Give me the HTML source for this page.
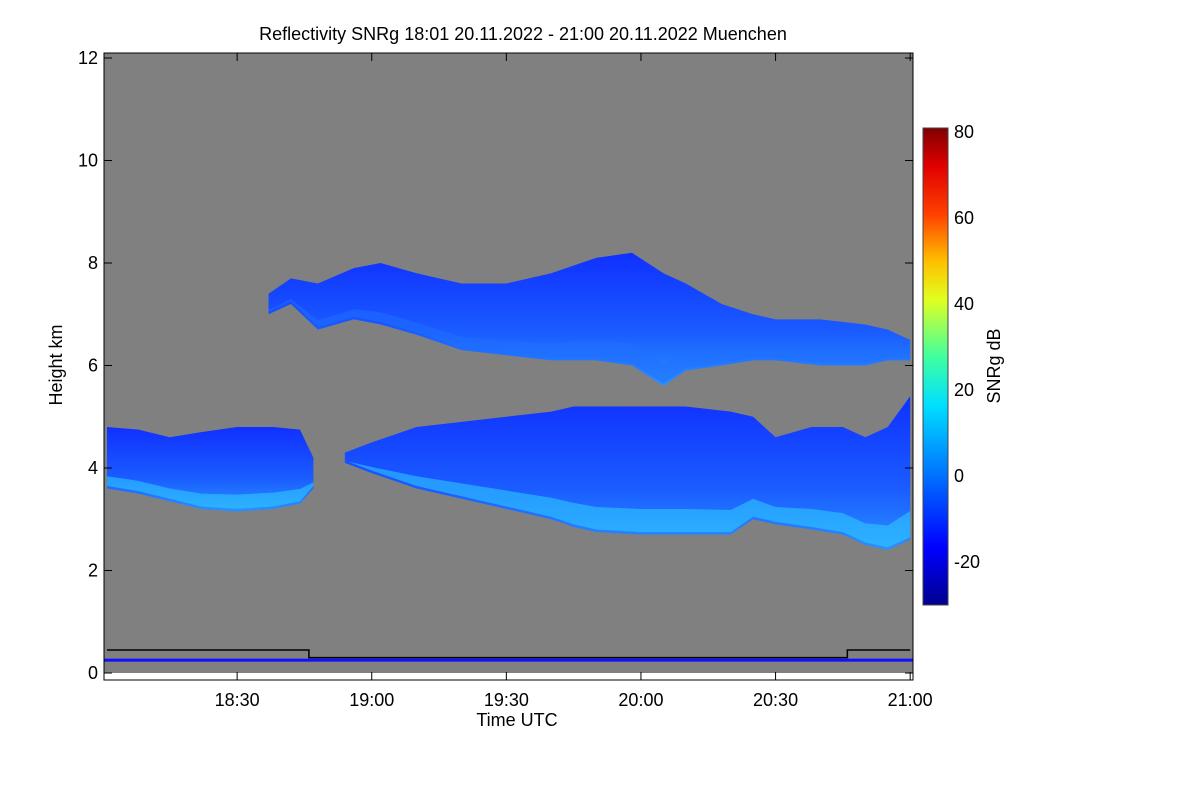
<!DOCTYPE html>
<html><head><meta charset="utf-8"><style>
body{margin:0;background:#fff;font-family:"Liberation Sans",sans-serif}
svg text{font-family:"Liberation Sans",sans-serif;fill:#000}
</style></head><body>
<svg id="c" width="1200" height="800" xmlns="http://www.w3.org/2000/svg">
<defs>
<linearGradient id="cb" x1="0" y1="1" x2="0" y2="0">
<stop offset="0" stop-color="#00008f"/><stop offset="0.12" stop-color="#0000ff"/>
<stop offset="0.27" stop-color="#0070ff"/><stop offset="0.42" stop-color="#00e0ff"/>
<stop offset="0.52" stop-color="#40ffa0"/><stop offset="0.64" stop-color="#e0ff20"/>
<stop offset="0.72" stop-color="#ffc000"/><stop offset="0.82" stop-color="#ff4000"/>
<stop offset="0.92" stop-color="#e00000"/><stop offset="1" stop-color="#800000"/>
</linearGradient>
<linearGradient id="cl" x1="0" y1="0" x2="0" y2="1">
<stop offset="0" stop-color="#1030ff"/><stop offset="0.6" stop-color="#1a5cff"/><stop offset="1" stop-color="#2a90ff"/>
</linearGradient>
</defs>
<text x="523" y="40" font-size="18" text-anchor="middle">Reflectivity SNRg   18:01 20.11.2022 - 21:00 20.11.2022 Muenchen</text>
<rect x="104" y="53" width="809" height="620" fill="#808080"/>
<g id="marks"></g>
<rect x="104" y="53" width="809" height="627" fill="none" stroke="#000" stroke-width="1"/>
<g id="axes"></g>
<text x="517" y="726" font-size="18" text-anchor="middle">Time UTC</text>
<text transform="translate(62,365) rotate(-90)" font-size="18" text-anchor="middle">Height km</text>
<rect x="923" y="128" width="25" height="477" fill="url(#cb)" stroke="#444"/>
<g id="cbax"></g>
<text transform="translate(1000,366) rotate(-90)" font-size="18" text-anchor="middle">SNRg dB</text>
</svg>
<script>
// minutes after 18:00, heights in km
const low1T=[1,8,15,22,30,38,44,47];
const low1Top=[4.8,4.75,4.6,4.7,4.8,4.8,4.75,4.2];
const low1Base=[3.6,3.5,3.35,3.2,3.15,3.2,3.3,3.6];
const low2T=[54,60,70,80,90,100,105,110,120,130,140,145,150,158,165,170,175,180];
const low2Top=[4.3,4.5,4.8,4.9,5.0,5.1,5.2,5.2,5.2,5.2,5.1,5.0,4.6,4.8,4.8,4.6,4.8,5.4];
const low2Base=[4.1,3.9,3.6,3.4,3.2,3.0,2.85,2.75,2.7,2.7,2.7,3.0,2.9,2.8,2.7,2.5,2.4,2.6];
const upT=[37,42,48,56,62,70,80,90,100,110,118,125,130,138,145,150,160,170,175,180];
const upTop=[7.4,7.7,7.6,7.9,8.0,7.8,7.6,7.6,7.8,8.1,8.2,7.8,7.6,7.2,7.0,6.9,6.9,6.8,6.7,6.5];
const upBase=[7.0,7.2,6.7,6.9,6.8,6.6,6.3,6.2,6.1,6.1,6.0,5.6,5.9,6.0,6.1,6.1,6.0,6.0,6.1,6.1];
const xTicks=[30,60,90,120,150,180];
const xLabels=["18:30","19:00","19:30","20:00","20:30","21:00"];
const yTicks=[0,2,4,6,8,10,12];
const cbTicks=[-20,0,20,40,60,80];
const groundT=[1,46,46,166,166,180];
const groundH=[0.45,0.45,0.3,0.3,0.45,0.45];

const X=m=>107+(m-1)*4.487;
const Y=h=>673-h*51.25;
const CB=v=>605-(v+30)*4.3;
const NS="http://www.w3.org/2000/svg";
function mk(tag,attrs,parent){const e=document.createElementNS(NS,tag);for(const k in attrs)e.setAttribute(k,attrs[k]);parent.appendChild(e);return e;}
const marks=document.getElementById('marks');
function layer(t,top,base,name,coreCol,coreOp){
  let d="M"+t.map((m,i)=>X(m)+","+Y(top[i])).join("L");
  for(let i=t.length-1;i>=0;i--)d+="L"+X(t[i])+","+Y(base[i]);
  const p=mk('path',{d:d+"Z",fill:"url(#cl)"},marks);
  
  
  let d2="M"+t.map((m,i)=>X(m)+","+Y(base[i]+(top[i]-base[i])*0.2)).join("L");
  for(let i=t.length-1;i>=0;i--)d2+="L"+X(t[i])+","+Y(base[i]+0.05);
  const c=mk('path',{d:d2+"Z",fill:coreCol,opacity:coreOp},marks);
  
  
}
layer(low1T,low1Top,low1Base,'lower-cloud-1','#30d0ff','0.55');
layer(low2T,low2Top,low2Base,'lower-cloud-2','#30d0ff','0.55');
layer(upT,upTop,upBase,'upper-cloud','#2070ff','0.5');
const bl=mk('rect',{x:104,y:Y(0.28),width:809,height:3,fill:"#1010ff"},marks);


const gl=mk('polyline',{points:groundT.map((m,i)=>X(m)+","+Y(groundH[i])).join(" "),fill:"none",stroke:"#000","stroke-width":1.5},marks);



const ax=document.getElementById('axes');
xTicks.forEach((m,i)=>{
  mk('line',{x1:X(m),y1:680,x2:X(m),y2:672,stroke:"#000"},ax);
  mk('line',{x1:X(m),y1:53,x2:X(m),y2:61,stroke:"#000"},ax);
  const t=mk('text',{x:X(m),y:706,"font-size":18,"text-anchor":"middle"},ax);
  t.textContent=xLabels[i];
  
  
});
yTicks.forEach(h=>{
  mk('line',{x1:104,y1:Y(h),x2:112,y2:Y(h),stroke:"#000"},ax);
  mk('line',{x1:913,y1:Y(h),x2:905,y2:Y(h),stroke:"#000"},ax);
  const t=mk('text',{x:98,y:Y(h)+6,"font-size":18,"text-anchor":"end"},ax);
  t.textContent=h;
  
  
});
const cb=document.getElementById('cbax');
cbTicks.forEach(v=>{
  const t=mk('text',{x:954,y:CB(v)+6,"font-size":18},cb);
  t.textContent=v;
  
  
});
</script>
</body></html>
